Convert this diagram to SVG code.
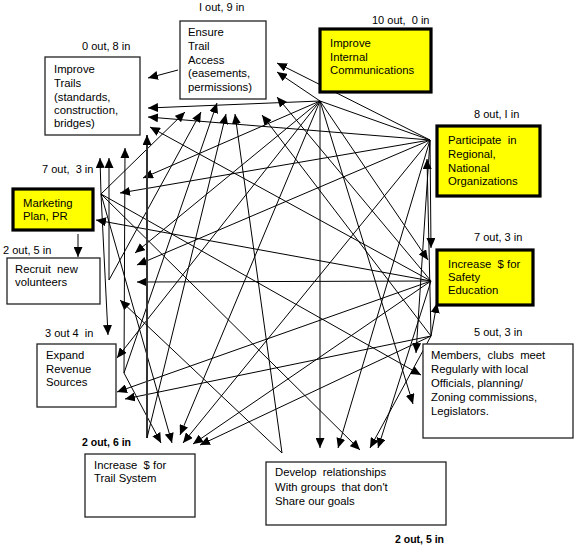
<svg xmlns="http://www.w3.org/2000/svg" width="578" height="550" viewBox="0 0 578 550">
<defs>
<marker id="a" markerUnits="userSpaceOnUse" markerWidth="10" markerHeight="9" viewBox="0 0 10 9" refX="10" refY="4.5" orient="auto"><path d="M0,0 L10,4.5 L0,9 z" fill="#000"/></marker>
<style>
text{font-family:"Liberation Sans",Arial,sans-serif;font-size:11.3px;fill:#000;white-space:pre}
.lb{font-size:11px}
.bl{font-size:10.5px;font-weight:bold}
.w{fill:#fff;stroke:#222;stroke-width:1.3}
.y{fill:#ffff00;stroke:#000;stroke-width:3.2}
#conn line{stroke:#000;stroke-width:1;marker-end:url(#a)}
#conn line.n{marker-end:none}
#conn line.t{stroke:#333;stroke-width:2}
</style>
</defs>
<rect width="578" height="550" fill="#fff"/>
<g id="conn">
<line x1="178" y1="70" x2="148" y2="78"/>
<line x1="320" y1="101" x2="148" y2="108"/>
<line x1="320" y1="101" x2="277" y2="72"/>
<line x1="320" y1="101" x2="320" y2="448"/>
<line x1="320" y1="101" x2="428" y2="260"/>
<line x1="320" y1="101" x2="180" y2="435"/>
<line x1="320" y1="101" x2="135" y2="253"/>
<line x1="320" y1="101" x2="117" y2="358"/>
<line x1="320" y1="101" x2="143" y2="178"/>
<line x1="320" y1="101" x2="413" y2="404"/>
<line class="n" x1="320" y1="101" x2="430" y2="140"/>
<line x1="430" y1="140" x2="148" y2="117"/>
<line x1="430" y1="140" x2="277" y2="63"/>
<line x1="430" y1="140" x2="431" y2="248"/>
<line x1="430" y1="140" x2="416" y2="353"/>
<line x1="430" y1="140" x2="183" y2="443"/>
<line x1="430" y1="140" x2="338" y2="448"/>
<line x1="430" y1="140" x2="137" y2="265"/>
<line x1="430" y1="140" x2="120" y2="193"/>
<line x1="431" y1="281" x2="150" y2="127"/>
<line x1="431" y1="281" x2="277" y2="97"/>
<line x1="431" y1="281" x2="193" y2="444"/>
<line x1="431" y1="281" x2="378" y2="448"/>
<line x1="431" y1="281" x2="137" y2="282"/>
<line x1="431" y1="281" x2="117" y2="392"/>
<line x1="431" y1="281" x2="96" y2="220"/>
<line x1="431" y1="336" x2="262" y2="115"/>
<line x1="431" y1="336" x2="437" y2="303"/>
<line x1="431" y1="336" x2="200" y2="445"/>
<line x1="431" y1="336" x2="370" y2="448"/>
<line x1="431" y1="336" x2="125" y2="399"/>
<line x1="431" y1="336" x2="427" y2="159"/>
<line x1="101" y1="194" x2="100" y2="158"/>
<line x1="101" y1="194" x2="185" y2="112"/>
<line x1="101" y1="194" x2="108" y2="335"/>
<line x1="101" y1="194" x2="172" y2="443"/>
<line x1="101" y1="194" x2="360" y2="450"/>
<line x1="101" y1="194" x2="421" y2="375"/>
<line x1="78" y1="234" x2="78" y2="257"/>
<line x1="109" y1="280" x2="109" y2="158"/>
<line x1="109" y1="280" x2="201" y2="112"/>
<line x1="124" y1="373" x2="125" y2="148"/>
<line x1="124" y1="373" x2="217" y2="103"/>
<line x1="124" y1="373" x2="161" y2="443"/>
<line class="t" x1="147" y1="438" x2="147" y2="135"/>
<line x1="147" y1="438" x2="226" y2="114"/>
<line x1="282" y1="453" x2="235" y2="114"/>
<line x1="282" y1="453" x2="120" y2="300"/>
</g>
<g id="trails"><rect class="w" x="45" y="57" width="95" height="78"/>
<text x="54" y="73">Improve</text><text x="54" y="87">Trails</text><text x="54" y="101">(standards,</text><text x="54" y="114">construction,</text><text x="54" y="127">bridges)</text>
<text class="lb" x="82" y="50">0 out, 8 in</text></g>
<g id="ensure"><rect class="w" x="180" y="21" width="86" height="78"/>
<text x="188" y="36">Ensure</text><text x="188" y="50">Trail</text><text x="188" y="64">Access</text><text x="188" y="77">(easements,</text><text x="188" y="91">permissions)</text>
<text class="lb" x="199" y="11">I out, 9 in</text></g>
<g id="internal"><rect class="y" x="320" y="29" width="111" height="63"/>
<text x="330" y="47">Improve</text><text x="330" y="61">Internal</text><text x="330" y="74">Communications</text>
<text class="lb" x="372" y="24">10 out,  0 in</text></g>
<g id="participate"><rect class="y" x="437" y="126" width="103" height="70"/>
<text x="448" y="144">Participate  in</text><text x="448" y="158">Regional,</text><text x="448" y="172">National</text><text x="448" y="185">Organizations</text>
<text class="lb" x="474" y="118">8 out, I in</text></g>
<g id="safety"><rect class="y" x="437" y="250" width="96" height="55"/>
<text x="448" y="268">Increase  $ for</text><text x="448" y="281">Safety</text><text x="448" y="294">Education</text>
<text class="lb" x="474" y="241">7 out, 3 in</text></g>
<g id="members"><rect class="w" x="423" y="344" width="150" height="94"/>
<text x="431" y="359">Members,  clubs  meet</text><text x="431" y="373">Regularly with local</text><text x="431" y="387">Officials, planning/</text><text x="431" y="401">Zoning commissions,</text><text x="431" y="415">Legislators.</text>
<text class="lb" x="474" y="336">5 out, 3 in</text></g>
<g id="develop"><rect class="w" x="266" y="462" width="180" height="63"/>
<text x="275" y="476">Develop  relationships</text><text x="275" y="491">With groups  that don't</text><text x="275" y="505">Share our goals</text>
<text class="bl" x="395" y="543">2 out, 5 in</text></g>
<g id="trailsys"><rect class="w" x="85" y="454" width="110" height="63"/>
<text x="94" y="469">Increase  $ for</text><text x="94" y="482">Trail System</text>
<text class="bl" x="82" y="446">2 out, 6 in</text></g>
<g id="expand"><rect class="w" x="37" y="344" width="79" height="63"/>
<text x="46" y="359">Expand</text><text x="46" y="373">Revenue</text><text x="46" y="386">Sources</text>
<text class="lb" x="45" y="337">3 out 4  in</text></g>
<g id="recruit"><rect class="w" x="7" y="258" width="93" height="46"/>
<text x="15" y="273">Recruit  new</text><text x="15" y="286">volunteers</text>
<text class="lb" x="3" y="254">2 out, 5 in</text></g>
<g id="marketing"><rect class="y" x="13" y="189" width="80" height="41"/>
<text x="23" y="207">Marketing</text><text x="23" y="220">Plan, PR</text>
<text class="lb" x="42" y="173">7 out,  3 in</text></g>
</svg>
